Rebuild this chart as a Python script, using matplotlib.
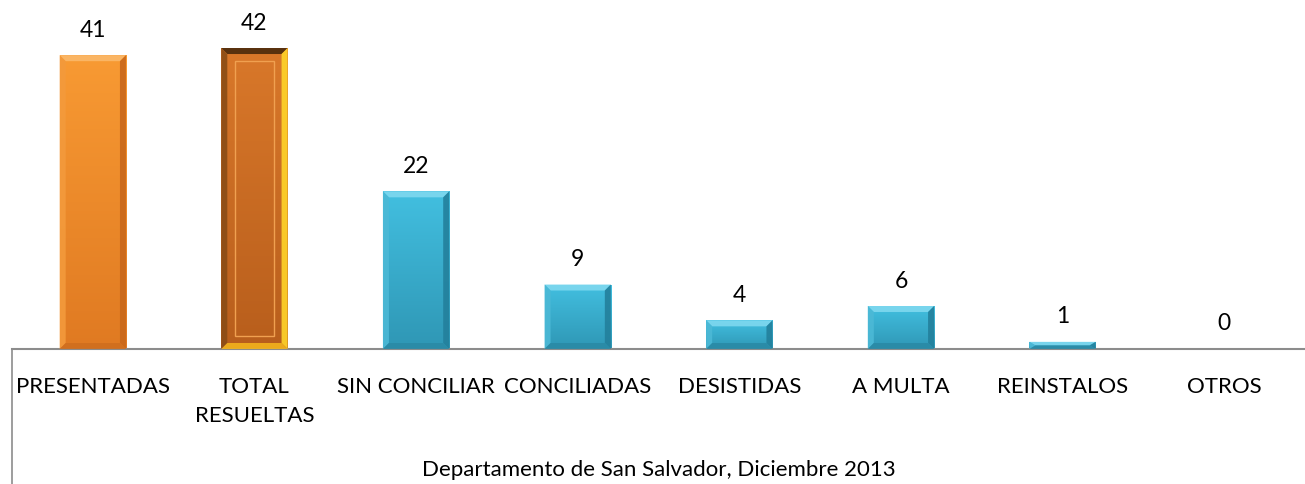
import numpy as np
import matplotlib.pyplot as plt
from matplotlib.patches import Polygon, Rectangle
from matplotlib.colors import LinearSegmentedColormap
from matplotlib.lines import Line2D

plt.rcParams['font.family'] = ['Lato', 'DejaVu Sans']

categorias = ['PRESENTADAS', 'TOTAL\nRESUELTAS', 'SIN CONCILIAR', 'CONCILIADAS',
              'DESISTIDAS', 'A MULTA', 'REINSTALOS', 'OTROS']
valores = [41, 42, 22, 9, 4, 6, 1, 0]
titulo = 'Departamento de San Salvador, Diciembre 2013'

W, H = 1305, 484
fig = plt.figure(figsize=(W / 100, H / 100), dpi=100)
ax = fig.add_axes([12 / W, (H - 349) / H, 1 - 12 / W, 349 / H])

x = np.arange(len(categorias))
ancho = 0.41
ymax = 48.7
ax.set_xlim(-0.5, len(categorias) - 0.5)
ax.set_ylim(0, ymax)

naranja = LinearSegmentedColormap.from_list('nar', ['#e07a22', '#f89a33'])
marron = LinearSegmentedColormap.from_list('mar', ['#b85e1c', '#d9782a'])
azul = LinearSegmentedColormap.from_list('azu', ['#2f97b5', '#42bfe0'])

# bevel sizes in data units (about 6 px)
bx = 6 / (W - 12) * len(categorias)
by = 6 / 349 * ymax

for i, v in enumerate(valores):
    if v <= 0:
        continue
    x0, x1 = i - ancho / 2, i + ancho / 2
    if i == 0:
        cmap = naranja
    elif i == 1:
        cmap = marron
    else:
        cmap = azul
    rect = Rectangle((x0, 0), ancho, v, facecolor='none', edgecolor='none')
    ax.add_patch(rect)
    grad = np.linspace(0, 1, 100).reshape(-1, 1)
    im = ax.imshow(grad, extent=[x0, x1, 0, v], origin='lower', cmap=cmap,
                   aspect='auto', zorder=2)
    im.set_clip_path(rect)

    dy = min(by, v / 2.0)
    dx = bx
    top = [(x0, v), (x1, v), (x1 - dx, v - dy), (x0 + dx, v - dy)]
    left = [(x0, 0), (x0, v), (x0 + dx, v - dy), (x0 + dx, dy)]
    right = [(x1, 0), (x1, v), (x1 - dx, v - dy), (x1 - dx, dy)]
    bot = [(x0, 0), (x1, 0), (x1 - dx, dy), (x0 + dx, dy)]
    if i == 1:
        cols = ['#4a2a0c', '#8a4c16', '#ffd42a', '#f2b31c']
    elif i == 0:
        cols = ['#fbb96a', '#f39a3c', '#c9681b', '#d06e1e']
    else:
        cols = ['#7fd8ef', '#4cb9d6', '#23809c', '#2a8aa6']
    for pts, c in zip([top, left, right, bot], cols):
        ax.add_patch(Polygon(pts, closed=True, facecolor=c, edgecolor='none',
                             zorder=3, alpha=0.9))
    if i == 1:
        ax.add_patch(Rectangle((x0 + 2.2 * dx, 2.2 * dy), ancho - 4.4 * dx,
                               v - 4.4 * dy, facecolor='none',
                               edgecolor='#f0a050', lw=1.0, zorder=4))

for i, v in enumerate(valores):
    ax.annotate(str(v), (i, v), xytext=(0, 18), textcoords='offset points',
                ha='center', va='center', fontsize=16.5, color='black')

ax.set_xticks(x)
ax.set_xticklabels(categorias, fontsize=16, linespacing=1.6)
ax.tick_params(axis='x', length=0, pad=20)
ax.set_yticks([])
for s in ['top', 'right', 'left']:
    ax.spines[s].set_visible(False)
ax.spines['bottom'].set_color('#8c8c8c')
ax.spines['bottom'].set_linewidth(1.5)
ax.set_xlabel(titulo, fontsize=16, labelpad=24)

fig.add_artist(Line2D([12 / W, 12 / W], [0, (H - 349) / H],
                      transform=fig.transFigure, color='#8c8c8c', lw=1.2))

fig.savefig('out.png', dpi=100)
